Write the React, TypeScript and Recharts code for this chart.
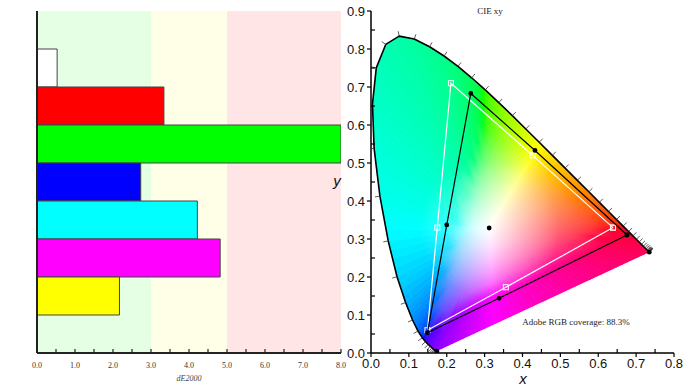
import React from 'react';
import { BarChart, Bar, Cell, XAxis, YAxis, ReferenceArea, ReferenceLine, ScatterChart, Scatter } from 'recharts';

// dE2000 per patch (top to bottom)
const PATCH_NAMES = ['White', 'Red', 'Green', 'Blue', 'Cyan', 'Magenta', 'Yellow'];
const PATCH_COLORS = ['#ffffff', '#ff0000', '#00ff00', '#0000ff', '#00ffff', '#ff00ff', '#ffff00'];
const DE2000 = [0.53, 3.34, 8.0, 2.73, 4.22, 4.82, 2.17];
const DE_TICKS = [0, 0.5, 1, 1.5, 2, 2.5, 3, 3.5, 4, 4.5, 5, 5.5, 6, 6.5, 7, 7.5, 8];
const BAND_EDGES = [0, 3, 5, 8];
const BAND_COLORS = ['#e5ffe5', '#fffee6', '#ffe5e5'];

// CIE 1931 spectral locus, 380-700 nm every 5 nm
const LOCUS_X = [
  0.1741, 0.174, 0.1738, 0.1736, 0.1733, 0.173, 0.1726, 0.1721, 0.1714, 0.1703,
  0.1689, 0.1669, 0.1644, 0.1611, 0.1566, 0.151, 0.144, 0.1355, 0.1241, 0.1096,
  0.0913, 0.0687, 0.0454, 0.0235, 0.0082, 0.0039, 0.0139, 0.0389, 0.0743, 0.1142,
  0.1547, 0.1929, 0.2296, 0.2658, 0.3016, 0.3373, 0.3731, 0.4087, 0.4441, 0.4788,
  0.5125, 0.5448, 0.5752, 0.6029, 0.627, 0.6482, 0.6658, 0.6801, 0.6915, 0.7006,
  0.7079, 0.714, 0.719, 0.723, 0.726, 0.7283, 0.73, 0.7311, 0.732, 0.7327,
  0.7334, 0.734, 0.7344, 0.7346, 0.7347,
];
const LOCUS_Y = [
  0.005, 0.005, 0.0049, 0.0049, 0.0048, 0.0048, 0.0048, 0.0048, 0.0051, 0.0058,
  0.0069, 0.0086, 0.0109, 0.0138, 0.0177, 0.0227, 0.0297, 0.0399, 0.0578, 0.0868,
  0.1327, 0.2007, 0.295, 0.4127, 0.5384, 0.6548, 0.7502, 0.812, 0.8338, 0.8262,
  0.8059, 0.7816, 0.7543, 0.7243, 0.6923, 0.6589, 0.6245, 0.5896, 0.5547, 0.5202,
  0.4866, 0.4544, 0.4242, 0.3965, 0.3725, 0.3514, 0.334, 0.3197, 0.3083, 0.2993,
  0.292, 0.2859, 0.2809, 0.277, 0.274, 0.2717, 0.27, 0.2689, 0.268, 0.2673,
  0.2666, 0.266, 0.2656, 0.2654, 0.2653,
];
const D65 = { x: 0.3127, y: 0.329 };

// gamut corners + secondaries: R, Y, G, C, B, M, back to R
const REF_X = [0.639, 0.427, 0.211, 0.175, 0.149, 0.356, 0.639];
const REF_Y = [0.33, 0.52, 0.71, 0.33, 0.06, 0.173, 0.33];
const MEAS_X = [0.676, 0.433, 0.2635, 0.2, 0.149, 0.338, 0.676];
const MEAS_Y = [0.3105, 0.533, 0.683, 0.337, 0.0534, 0.144, 0.3105];
const MEAS_WHITE = { x: 0.312, y: 0.329 };

const CIE_X_TICKS = [0, 0.05, 0.1, 0.15, 0.2, 0.25, 0.3, 0.35, 0.4, 0.45, 0.5, 0.55, 0.6, 0.65, 0.7, 0.75, 0.8];
const CIE_Y_TICKS = [0, 0.05, 0.1, 0.15, 0.2, 0.25, 0.3, 0.35, 0.4, 0.45, 0.5, 0.55, 0.6, 0.65, 0.7, 0.75, 0.8, 0.85, 0.9];

const SERIF = '"Liberation Serif", "Times New Roman", serif';
const SANS = '"Liberation Sans", Arial, sans-serif';

// empty rows above and below the patches, as in the original layout
const barData = [
  { name: 'top', value: null as number | null },
  ...PATCH_NAMES.map((name, i) => ({ name, value: DE2000[i] as number | null })),
  { name: 'bottom', value: null as number | null },
];
const barFills = ['none', ...PATCH_COLORS, 'none'];
const locusData = [...LOCUS_X.map((x, i) => ({ x, y: LOCUS_Y[i] })), D65];
const refData = REF_X.map((x, i) => ({ x, y: REF_Y[i] }));
const measData = MEAS_X.map((x, i) => ({ x, y: MEAS_Y[i] }));
const endsData = [
  { x: LOCUS_X[0], y: LOCUS_Y[0] },
  { x: LOCUS_X[LOCUS_X.length - 1], y: LOCUS_Y[LOCUS_Y.length - 1] },
];

// display colour for a chromaticity: real sRGB inside the gamut, desaturated to the edge outside
function xyColor(x: number, y: number) {
  const X = x / y;
  const Z = (1 - x - y) / y;
  let r = 3.2406 * X - 1.5372 - 0.4986 * Z;
  let g = -0.9689 * X + 1.8758 + 0.0415 * Z;
  let b = 0.0557 * X - 0.204 + 1.057 * Z;
  const m = Math.min(r, g, b);
  if (m < 0) { r -= m; g -= m; b -= m; }
  const M = Math.max(r, g, b) || 1;
  const enc = (v: number) => {
    const c = v / M;
    const s = c <= 0.0031308 ? 12.92 * c : 1.055 * Math.pow(c, 1 / 2.4) - 0.055;
    return Math.round(Math.max(0, Math.min(1, s)) * 255);
  };
  return `rgb(${enc(r)},${enc(g)},${enc(b)})`;
}

const RAY_STOPS = [0, 0.06, 0.12, 0.2, 0.3, 0.42, 0.56, 0.72, 0.86, 1];
const SUBDIV = 4;

function renderDeTick(props: any) {
  const { x, y, payload } = props;
  const v = payload.value as number;
  const major = Number.isInteger(v);
  return (
    <g>
      <line x1={x} x2={x} y1={y} y2={y - 4} stroke="#222" strokeWidth={1.2} />
      {major && (
        <text x={x} y={y + 15} textAnchor="middle" fontSize={8} fontFamily={SERIF} fill="#333">
          {v.toFixed(1)}
        </text>
      )}
    </g>
  );
}

function renderCieXTick(props: any) {
  const { x, y, payload } = props;
  const v = payload.value as number;
  const major = Math.round(v * 100) % 10 === 0;
  return (
    <g>
      <line x1={x} x2={x} y1={y} y2={major ? y + 4 : y - 4} stroke="#000" strokeWidth={1.2} />
      {major && (
        <text x={x} y={y + 15} textAnchor="middle" fontSize={13} fontFamily={SANS} fill="#111">
          {v.toFixed(1)}
        </text>
      )}
    </g>
  );
}

function renderCieYTick(props: any) {
  const { x, y, payload } = props;
  const v = payload.value as number;
  const major = Math.round(v * 100) % 10 === 0;
  return (
    <g>
      <line x1={x} x2={major ? x - 4 : x + 4} y1={y} y2={y} stroke="#000" strokeWidth={1.2} />
      {major && (
        <text x={x - 6} y={y + 4.5} textAnchor="end" fontSize={13} fontFamily={SANS} fill="#111">
          {v.toFixed(1)}
        </text>
      )}
    </g>
  );
}

type Pt = { x: number; y: number };
const lerp = (a: number, b: number, t: number) => a + (b - a) * t;
const lerpPt = (a: Pt, b: Pt, t: number) => ({ x: lerp(a.x, b.x, t), y: lerp(a.y, b.y, t) });

// horseshoe: shaded fan from the white point, outline and 5 nm ticks
function renderLocus(props: any) {
  const pts: Pt[] = props.points || [];
  if (pts.length < 4) return <g />;
  const c = pts[pts.length - 1];
  const loc = pts.slice(0, -1);
  const n = loc.length;
  const grads: React.ReactNode[] = [];
  const tris: React.ReactNode[] = [];

  const addWedge = (key: string, p0: Pt, p1: Pt, ex: number, ey: number) => {
    const mx = (p0.x + p1.x) / 2;
    const my = (p0.y + p1.y) / 2;
    const id = 'ray-' + key;
    grads.push(
      <linearGradient key={id} id={id} gradientUnits="userSpaceOnUse" x1={c.x} y1={c.y} x2={mx} y2={my}>
        {RAY_STOPS.map((t) => (
          <stop key={t} offset={t} stopColor={xyColor(lerp(D65.x, ex, t), lerp(D65.y, ey, t))} />
        ))}
      </linearGradient>
    );
    tris.push(
      <polygon key={key} points={`${c.x},${c.y} ${p0.x},${p0.y} ${p1.x},${p1.y}`}
        fill={`url(#${id})`} stroke={`url(#${id})`} strokeWidth={0.9} strokeLinejoin="round" />
    );
  };

  // spectral segments, each split into thin wedges for smooth shading
  for (let i = 0; i < n - 1; i++) {
    const segLen = Math.hypot(loc[i + 1].x - loc[i].x, loc[i + 1].y - loc[i].y);
    const s = segLen < 2 ? 1 : SUBDIV;
    for (let k = 0; k < s; k++) {
      const t0 = k / s;
      const t1 = (k + 1) / s;
      const tm = (k + 0.5) / s;
      addWedge('s' + i + '-' + k, lerpPt(loc[i], loc[i + 1], t0), lerpPt(loc[i], loc[i + 1], t1),
        lerp(LOCUS_X[i], LOCUS_X[i + 1], tm), lerp(LOCUS_Y[i], LOCUS_Y[i + 1], tm));
    }
  }
  // purple line
  const a = loc[n - 1];
  const b = loc[0];
  const K = 40;
  for (let k = 0; k < K; k++) {
    const tm = (k + 0.5) / K;
    addWedge('p' + k, lerpPt(a, b, k / K), lerpPt(a, b, (k + 1) / K),
      lerp(LOCUS_X[n - 1], LOCUS_X[0], tm), lerp(LOCUS_Y[n - 1], LOCUS_Y[0], tm));
  }

  const outline = loc.map((p) => `${p.x},${p.y}`).join(' ');
  const ticks: React.ReactNode[] = [];
  for (let i = 0; i < n; i++) {
    const p = loc[i];
    let j0 = Math.max(0, i - 1);
    let j1 = Math.min(n - 1, i + 1);
    let tx = loc[j1].x - loc[j0].x;
    let ty = loc[j1].y - loc[j0].y;
    while (Math.hypot(tx, ty) < 0.5 && (j0 > 0 || j1 < n - 1)) {
      j0 = Math.max(0, j0 - 1);
      j1 = Math.min(n - 1, j1 + 1);
      tx = loc[j1].x - loc[j0].x;
      ty = loc[j1].y - loc[j0].y;
    }
    const len = Math.hypot(tx, ty) || 1;
    let nx = ty / len;
    let ny = -tx / len;
    if (nx * (p.x - c.x) + ny * (p.y - c.y) < 0) { nx = -nx; ny = -ny; }
    ticks.push(
      <line key={'t' + i} x1={p.x} y1={p.y} x2={p.x + nx * 5} y2={p.y + ny * 5} stroke="#333" strokeWidth={0.8} />
    );
  }
  return (
    <g>
      <defs>
        <clipPath id="locus-clip">
          <polygon points={outline} />
        </clipPath>
        <radialGradient id="wp-glow" cx={c.x} cy={c.y} r={70} gradientUnits="userSpaceOnUse">
          <stop offset="0" stopColor="#fff" stopOpacity={0.55} />
          <stop offset="0.4" stopColor="#fff" stopOpacity={0.3} />
          <stop offset="1" stopColor="#fff" stopOpacity={0} />
        </radialGradient>
        {grads}
      </defs>
      <g clipPath="url(#locus-clip)">
        {tris}
        <circle cx={c.x} cy={c.y} r={72} fill="url(#wp-glow)" />
      </g>
      <polyline points={outline} fill="none" stroke="#000" strokeWidth={1.6} strokeLinejoin="round" />
      {ticks}
    </g>
  );
}

const noShape = () => <g />;
const squareShape = (p: any) => (
  <rect x={p.cx - 2.5} y={p.cy - 2.5} width={5} height={5} fill="none" stroke="#fff" strokeWidth={1} />
);
const dotShape = (p: any) => <circle cx={p.cx} cy={p.cy} r={2.4} fill="#000" />;

const textStyle: React.CSSProperties = { position: 'absolute', whiteSpace: 'nowrap', lineHeight: 1, color: '#222' };
const barMargin = { top: 11, right: 9, left: 37, bottom: 0 };

export default function App() {
  return (
    <div style={{ position: 'absolute', left: 0, top: 0, width: 693, height: 390, background: '#fff', overflow: 'hidden' }}>
      {/* background bands */}
      <div style={{ position: 'absolute', left: 0, top: 0 }}>
        <BarChart width={350} height={390} data={barData} layout="vertical" barCategoryGap={0} margin={barMargin}>
          <XAxis type="number" domain={[0, 8]} height={37} tick={false} tickLine={false} axisLine={false} />
          <YAxis type="category" dataKey="name" width={0} tick={false} tickLine={false} axisLine={false} />
          {BAND_COLORS.map((col, i) => (
            <ReferenceArea key={col} x1={BAND_EDGES[i]} x2={BAND_EDGES[i + 1]} fill={col} fillOpacity={1} stroke="none" />
          ))}
          <Bar dataKey="value" isAnimationActive={false} fill="none" stroke="none" />
        </BarChart>
      </div>
      <div style={{ position: 'absolute', left: 0, top: 0 }}>
        <BarChart width={350} height={390} data={barData} layout="vertical" barCategoryGap={0} margin={barMargin}>
          <XAxis type="number" domain={[0, 8]} ticks={DE_TICKS} interval={0} allowDataOverflow height={37}
            tickSize={0} tickMargin={0} tickLine={false} tick={renderDeTick}
            axisLine={{ stroke: '#222', strokeWidth: 2 }} />
          <YAxis type="category" dataKey="name" width={0} tick={false} tickLine={false} axisLine={false} />
          <Bar dataKey="value" isAnimationActive={false} stroke="#444" strokeWidth={1}>
            {barData.map((d, i) => (
              <Cell key={d.name} fill={barFills[i]} />
            ))}
          </Bar>
          <ReferenceLine x={0} stroke="#222" strokeWidth={2} />
        </BarChart>
      </div>
      <div style={{ ...textStyle, left: 189, top: 375, transform: 'translateX(-50%)', fontFamily: SERIF, fontStyle: 'italic', fontSize: 8, color: '#444' }}>
        dE2000
      </div>

      <div style={{ position: 'absolute', left: 341, top: 0 }}>
        <ScatterChart width={352} height={390} margin={{ top: 11, right: 19, left: 0, bottom: 0 }}>
          <XAxis type="number" dataKey="x" domain={[0, 0.8]} ticks={CIE_X_TICKS} interval={0} allowDataOverflow height={37}
            tickSize={0} tickMargin={0} tickLine={false} tick={renderCieXTick}
            axisLine={{ stroke: '#000', strokeWidth: 1.5 }} />
          <YAxis type="number" dataKey="y" domain={[0, 0.9]} ticks={CIE_Y_TICKS} interval={0} allowDataOverflow width={30}
            tickSize={0} tickMargin={0} tickLine={false} tick={renderCieYTick}
            axisLine={{ stroke: '#000', strokeWidth: 1.5 }} />
          <Scatter data={locusData} shape={noShape} line={renderLocus} isAnimationActive={false} />
          <Scatter data={endsData} shape={dotShape} isAnimationActive={false} />
          <Scatter data={refData} shape={squareShape} line={{ stroke: '#fff', strokeWidth: 1.2 }} isAnimationActive={false} />
          <Scatter data={measData} shape={dotShape} line={{ stroke: '#000', strokeWidth: 1.2 }} isAnimationActive={false} />
          <Scatter data={[MEAS_WHITE]} shape={dotShape} isAnimationActive={false} />
        </ScatterChart>
      </div>
      <div style={{ ...textStyle, left: 490, top: 7, transform: 'translateX(-50%)', fontFamily: SERIF, fontSize: 9 }}>
        CIE xy
      </div>
      <div style={{ ...textStyle, left: 576, top: 318, transform: 'translateX(-50%)', fontFamily: SERIF, fontSize: 9 }}>
        Adobe RGB coverage: 88.3%
      </div>
      <div style={{ ...textStyle, left: 523, top: 371, transform: 'translateX(-50%)', fontFamily: SANS, fontStyle: 'italic', fontSize: 15, color: '#111' }}>
        x
      </div>
      <div style={{ ...textStyle, left: 337, top: 173, transform: 'translateX(-50%)', fontFamily: SANS, fontStyle: 'italic', fontSize: 15, color: '#111' }}>
        y
      </div>
    </div>
  );
}
